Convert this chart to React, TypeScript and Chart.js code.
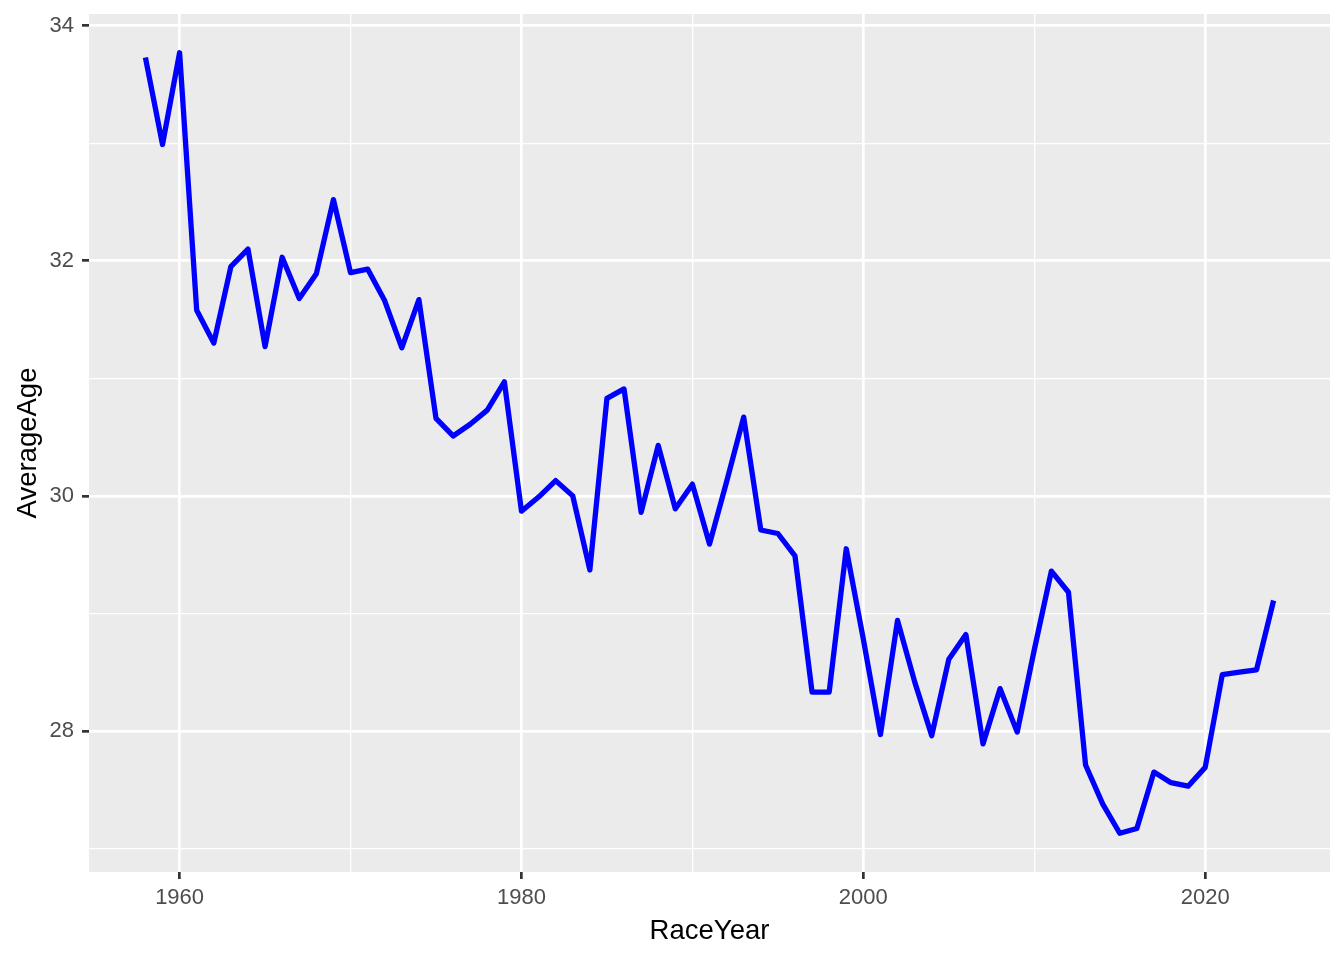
import React, { useEffect, useRef } from "react";
import { Chart, registerables } from "chart.js";

Chart.register(...registerables);

const raceYears = [
  1958, 1959, 1960, 1961, 1962, 1963, 1964, 1965, 1966, 1967,
  1968, 1969, 1970, 1971, 1972, 1973, 1974, 1975, 1976, 1977,
  1978, 1979, 1980, 1981, 1982, 1983, 1984, 1985, 1986, 1987,
  1988, 1989, 1990, 1991, 1992, 1993, 1994, 1995, 1996, 1997,
  1998, 1999, 2000, 2001, 2002, 2003, 2004, 2005, 2006, 2007,
  2008, 2009, 2010, 2011, 2012, 2013, 2014, 2015, 2016, 2017,
  2018, 2019, 2020, 2021, 2022, 2023, 2024,
];

const averageAge = [
  33.73, 32.99, 33.77, 31.58, 31.3, 31.95, 32.1, 31.27, 32.03, 31.68,
  31.89, 32.52, 31.9, 31.93, 31.66, 31.26, 31.67, 30.66, 30.51, 30.61,
  30.73, 30.97, 29.87, 29.99, 30.13, 30.0, 29.37, 30.83, 30.91, 29.86,
  30.43, 29.89, 30.1, 29.59, 30.12, 30.67, 29.71, 29.68, 29.49, 28.33,
  28.33, 29.55, 28.78, 27.97, 28.94, 28.42, 27.96, 28.61, 28.82, 27.89,
  28.36, 27.99, 28.69, 29.36, 29.18, 27.71, 27.38, 27.13, 27.17, 27.65,
  27.56, 27.53, 27.69, 28.48, 28.5, 28.52, 29.11,
];

const xMajorTicks = [1960, 1980, 2000, 2020];
const xMinorTicks = [1970, 1990, 2010];
const yMajorTicks = [28, 30, 32, 34];
const yMinorTicks = [27, 29, 31, 33];

const FONT = "'Liberation Sans', Arial, sans-serif";

const panelBg = {
  id: "panelBg",
  beforeDraw(chart: any) {
    const { ctx, chartArea } = chart;
    ctx.save();
    ctx.fillStyle = "#EBEBEB";
    ctx.fillRect(chartArea.left, chartArea.top, chartArea.right - chartArea.left, chartArea.bottom - chartArea.top);
    ctx.restore();
  },
};

export default function App() {
  const ref = useRef<HTMLCanvasElement | null>(null);

  useEffect(() => {
    if (!ref.current) return;
    const xAll = [...xMajorTicks, ...xMinorTicks].sort((a, b) => a - b);
    const yAll = [...yMajorTicks, ...yMinorTicks].sort((a, b) => a - b);
    const chart = new Chart(ref.current, {
      type: "line",
      data: {
        datasets: [
          {
            data: raceYears.map((yr, i) => ({ x: yr, y: averageAge[i] })),
            borderColor: "#0000FF",
            borderWidth: 5.3,
            pointRadius: 0,
            tension: 0,
            borderJoinStyle: "round",
            borderCapStyle: "butt",
            fill: false,
          },
        ],
      },
      options: {
        animation: false,
        responsive: false,
        devicePixelRatio: 1,
        layout: { padding: { top: 14, right: 14, left: 0, bottom: 0 } },
        plugins: { legend: { display: false }, tooltip: { enabled: false } },
        scales: {
          x: {
            type: "linear",
            min: 1954.7,
            max: 2027.3,
            afterBuildTicks: (s: any) => {
              s.ticks = xAll.map((v) => ({ value: v }));
            },
            afterFit: (s: any) => {
              s.height = 88;
              s.paddingLeft = 0;
              s.paddingRight = 0;
            },
            border: { display: false },
            grid: {
              color: "#FFFFFF",
              lineWidth: (c: any) => (xMajorTicks.includes(c.tick?.value) ? 2.7 : 1.3),
              tickColor: (c: any) => (xMajorTicks.includes(c.tick?.value) ? "#333333" : "rgba(0,0,0,0)"),
              tickWidth: 2.7,
              tickLength: 7,
              drawTicks: true,
            },
            ticks: {
              autoSkip: false,
              maxRotation: 0,
              padding: 6,
              color: "#4D4D4D",
              font: { family: FONT, size: 22 },
              callback: (v: any) => (xMajorTicks.includes(Number(v)) ? String(v) : ""),
            },
            title: {
              display: true,
              text: "RaceYear",
              color: "#000000",
              font: { family: FONT, size: 27.5 },
              padding: { top: 0, bottom: 12 },
            },
          },
          y: {
            type: "linear",
            min: 26.8,
            max: 34.1,
            afterBuildTicks: (s: any) => {
              s.ticks = yAll.map((v) => ({ value: v }));
            },
            afterFit: (s: any) => {
              s.width = 89;
              s.paddingTop = 0;
              s.paddingBottom = 0;
            },
            border: { display: false },
            grid: {
              color: "#FFFFFF",
              lineWidth: (c: any) => (yMajorTicks.includes(c.tick?.value) ? 2.7 : 1.3),
              tickColor: (c: any) => (yMajorTicks.includes(c.tick?.value) ? "#333333" : "rgba(0,0,0,0)"),
              tickWidth: 2.7,
              tickLength: 7,
              drawTicks: true,
            },
            ticks: {
              autoSkip: false,
              padding: 8,
              color: "#4D4D4D",
              font: { family: FONT, size: 22 },
              callback: (v: any) => (yMajorTicks.includes(Number(v)) ? String(v) : ""),
            },
            title: {
              display: true,
              text: "AverageAge",
              color: "#000000",
              font: { family: FONT, size: 27.5 },
              padding: { top: 12, bottom: 0 },
            },
          },
        },
      },
      plugins: [panelBg],
    } as any);
    return () => chart.destroy();
  }, []);

  return (
    <div style={{ position: "fixed", left: 0, top: 0, width: 1344, height: 960, background: "#FFFFFF" }}>
      <canvas ref={ref} width={1344} height={960} style={{ width: 1344, height: 960, display: "block" }} />
    </div>
  );
}
